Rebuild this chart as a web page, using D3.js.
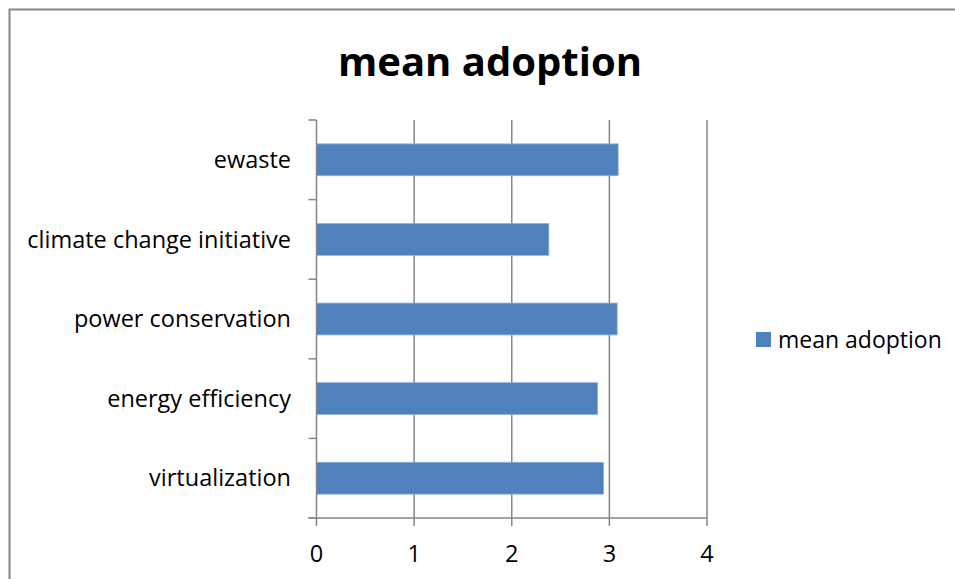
<!DOCTYPE html>
<html>
<head>
<meta charset="utf-8">
<title>mean adoption</title>
<script src="https://cdn.jsdelivr.net/npm/d3@7"></script>
<style>
    body { margin: 0; background: white; }
    text { font-family: "Open Sans", sans-serif; fill: black; }
</style>
</head>
<body>
<svg id="chart" width="955" height="579"></svg>
<script>
    // data
    var categories = ["ewaste", "climate change initiative", "power conservation", "energy efficiency", "virtualization"]
    var values = [3.09, 2.38, 3.08, 2.88, 2.94]
    var xTicks = [0, 1, 2, 3, 4]
    var seriesName = "mean adoption"

    var svg = d3.select("#chart")
    var gray = "#868686"

    // outer chart border (runs off the right and bottom edge)
    svg.append("path")
        .attr("d", "M9.5,590 V9.5 H970")
        .attr("fill", "none")
        .attr("stroke", gray)
        .attr("stroke-width", 2)

    var x = d3.scaleLinear().domain([0, 4]).range([316.5, 707])
    var y = d3.scaleBand().domain(categories).range([120, 518]).paddingInner(0.6).paddingOuter(0.3)

    // gridlines
    svg.append("g").selectAll("line")
        .data(xTicks.slice(1))
        .enter().append("line")
        .attr("x1", d => x(d)).attr("x2", d => x(d))
        .attr("y1", 120).attr("y2", 518)
        .attr("stroke", gray).attr("stroke-width", 1.5)

    // bars
    svg.append("g").selectAll("rect")
        .data(values)
        .enter().append("rect")
        .attr("x", x(0))
        .attr("y", (d, i) => y(categories[i]))
        .attr("width", d => x(d) - x(0))
        .attr("height", y.bandwidth())
        .attr("fill", "#4f81bd")
        .attr("stroke", "#8fb0dc")
        .attr("stroke-width", 0.8)

    // left axis with ticks between categories
    var bounds = d3.range(categories.length + 1).map(i => 120 + i * (398 / categories.length))
    svg.append("line")
        .attr("x1", x(0)).attr("x2", x(0)).attr("y1", 120).attr("y2", 518)
        .attr("stroke", gray).attr("stroke-width", 1.5)
    svg.append("g").selectAll("line")
        .data(bounds)
        .enter().append("line")
        .attr("x1", x(0) - 8).attr("x2", x(0))
        .attr("y1", d => d).attr("y2", d => d)
        .attr("stroke", gray).attr("stroke-width", 1.5)
    svg.append("g").selectAll("text")
        .data(categories)
        .enter().append("text")
        .attr("x", 291)
        .attr("y", d => y(d) + y.bandwidth() / 2)
        .attr("dy", "0.35em")
        .attr("text-anchor", "end")
        .style("font-size", "23.5px")
        .text(d => d)

    // bottom axis
    svg.append("line")
        .attr("x1", x(0) - 8).attr("x2", x(4)).attr("y1", 518).attr("y2", 518)
        .attr("stroke", gray).attr("stroke-width", 1.5)
    svg.append("g").selectAll("line")
        .data(xTicks)
        .enter().append("line")
        .attr("x1", d => x(d)).attr("x2", d => x(d))
        .attr("y1", 518).attr("y2", 526)
        .attr("stroke", gray).attr("stroke-width", 1.5)
    svg.append("g").selectAll("text")
        .data(xTicks)
        .enter().append("text")
        .attr("x", d => x(d))
        .attr("y", 562)
        .attr("text-anchor", "middle")
        .style("font-size", "23.5px")
        .text(d => d)

    // title
    svg.append("text")
        .attr("x", 490)
        .attr("y", 76)
        .attr("text-anchor", "middle")
        .style("font-size", "40px")
        .style("font-weight", "bold")
        .text(seriesName)

    // legend
    svg.append("rect")
        .attr("x", 756).attr("y", 332)
        .attr("width", 15).attr("height", 15)
        .attr("fill", "#4f81bd")
    svg.append("text")
        .attr("x", 778).attr("y", 339.5)
        .attr("dy", "0.35em")
        .style("font-size", "23px")
        .text(seriesName)
</script>
</body>
</html>
